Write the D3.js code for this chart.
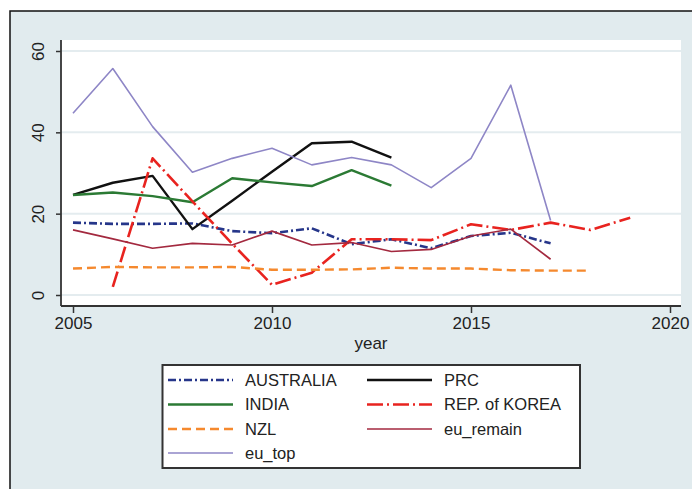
<!DOCTYPE html>
<html>
<head>
<meta charset="utf-8">
<script src="https://cdn.jsdelivr.net/npm/d3@7"></script>
<style>
  body { margin: 0; background: #fff; }
  svg { display: block; font-family: "Liberation Sans", Arial, sans-serif; }
</style>
</head>
<body>
<svg id="chart" width="692" height="489"></svg>
<script>
// data
var years = [2005, 2006, 2007, 2008, 2009, 2010, 2011, 2012, 2013, 2014, 2015, 2016, 2017, 2018, 2019];
var australia = [17.8, 17.5, 17.5, 17.6, 15.7, 15.2, 16.4, 12.5, 13.7, 11.5, 14.5, 15.3, 12.7, null, null];
var prc       = [24.6, 27.6, 29.3, 16.2, 23.2, 30.3, 37.3, 37.7, 33.8, null, null, null, null, null, null];
var india     = [24.6, 25.2, 24.3, 22.8, 28.7, 27.7, 26.8, 30.7, 26.9, null, null, null, null, null, null];
var korea     = [null, 2.0, 33.6, 23.0, 12.6, 2.5, 5.5, 13.7, 13.7, 13.5, 17.4, 16.0, 17.8, 16.0, 19.0];
var nzl       = [6.5, 6.9, 6.8, 6.8, 6.9, 6.2, 6.2, 6.3, 6.7, 6.5, 6.5, 6.1, 6.0, 6.0, null];
var euRemain  = [16.0, 13.8, 11.5, 12.7, 12.3, 15.7, 12.3, 12.9, 10.7, 11.2, 14.5, 16.2, 8.8, null, null];
var euTop     = [44.7, 55.7, 41.4, 30.2, 33.6, 36.1, 32.0, 33.8, 32.0, 26.4, 33.6, 51.6, 18.3, null, null];

var seriesNames = ["AUSTRALIA", "PRC", "INDIA", "REP. of KOREA", "NZL", "eu_remain", "eu_top"];
var seriesValues = [australia, prc, india, korea, nzl, euRemain, euTop];
var xTicks = [2005, 2010, 2015, 2020];
var yTicks = [0, 20, 40, 60];

// styles per series
var styles = [
  {color: "#26368a", width: 2.6, dash: "8,3,2,3"},
  {color: "#111111", width: 2.4, dash: null},
  {color: "#2b7a34", width: 2.4, dash: null},
  {color: "#e8231f", width: 2.6, dash: "16,4,2,4"},
  {color: "#f5892e", width: 2.4, dash: "9,5"},
  {color: "#a3293f", width: 1.7, dash: null},
  {color: "#8e86c6", width: 1.6, dash: null}
];

var svg = d3.select("#chart");

// graph region background + frame
svg.append("rect").attr("x", 0).attr("y", 0).attr("width", 692).attr("height", 489).attr("fill", "#fff");
svg.append("rect")
    .attr("x", 10).attr("y", 11).attr("width", 720).attr("height", 520)
    .attr("fill", "#e1ebee").attr("stroke", "#111").attr("stroke-width", 1.5);

var plot = {left: 61, right: 681, top: 40, bottom: 306};

var x = d3.scaleLinear().domain([2005, 2020]).range([73, 670]);
var y = d3.scaleLinear().domain([0, 60]).range([295, 51]);

// plot region
svg.append("rect")
    .attr("x", plot.left).attr("y", plot.top)
    .attr("width", plot.right - plot.left).attr("height", plot.bottom - plot.top)
    .attr("fill", "#fff");

// gridlines
svg.append("g").selectAll("line")
    .data(yTicks)
    .enter().append("line")
    .attr("x1", plot.left).attr("x2", plot.right)
    .attr("y1", function(d) { return y(d); })
    .attr("y2", function(d) { return y(d); })
    .attr("stroke", "#e4ecef").attr("stroke-width", 2);

// lines
var line = d3.line()
    .defined(function(d) { return d.v != null; })
    .x(function(d) { return x(d.year); })
    .y(function(d) { return y(d.v); });

seriesValues.forEach(function(vals, i) {
  var pts = years.map(function(yr, j) { return {year: yr, v: vals[j]}; });
  svg.append("path")
      .datum(pts)
      .attr("d", line)
      .attr("fill", "none")
      .attr("stroke", styles[i].color)
      .attr("stroke-width", styles[i].width)
      .attr("stroke-dasharray", styles[i].dash)
      .attr("stroke-linejoin", "round");
});

// X axis
var xAxis = svg.append("g")
    .attr("transform", "translate(0," + plot.bottom + ")")
    .call(d3.axisBottom(x).tickValues(xTicks).tickSize(7).tickPadding(4).tickFormat(d3.format("d")));
xAxis.select(".domain").remove();
xAxis.selectAll("line").attr("stroke", "#333").attr("stroke-width", 1.5);
xAxis.selectAll("text").style("font-size", "17px").attr("fill", "#222").style("font-family", "Liberation Sans, Arial, sans-serif");

// Y axis
var yAxis = svg.append("g")
    .attr("transform", "translate(" + plot.left + ",0)")
    .call(d3.axisLeft(y).tickValues(yTicks).tickSize(5));
yAxis.select(".domain").remove();
yAxis.selectAll("line").attr("stroke", "#333").attr("stroke-width", 1.5);
yAxis.selectAll("text")
    .attr("x", null).attr("dy", "0.35em")
    .attr("transform", "translate(-23,0) rotate(-90)")
    .attr("text-anchor", "middle")
    .style("font-size", "17px").attr("fill", "#222")
    .style("font-family", "Liberation Sans, Arial, sans-serif");

// axis lines
svg.append("line")
    .attr("x1", plot.left).attr("x2", plot.left)
    .attr("y1", plot.top).attr("y2", plot.bottom)
    .attr("stroke", "#333").attr("stroke-width", 1.8);
svg.append("line")
    .attr("x1", plot.left).attr("x2", plot.right)
    .attr("y1", plot.bottom).attr("y2", plot.bottom)
    .attr("stroke", "#333").attr("stroke-width", 1.8);

// x axis title
svg.append("text")
    .attr("x", (plot.left + plot.right) / 2)
    .attr("y", 349)
    .attr("text-anchor", "middle")
    .style("font-size", "17px")
    .attr("fill", "#222")
    .text("year");

// legend
var legend = svg.append("g");
legend.append("rect")
    .attr("x", 162.5).attr("y", 365).attr("width", 417.5).attr("height", 103)
    .attr("fill", "#fff").attr("stroke", "#333").attr("stroke-width", 2);

var rowY = [380, 404.5, 429, 453];
var colX = [168, 367];

seriesNames.forEach(function(name, i) {
  var cx = colX[i % 2], cy = rowY[Math.floor(i / 2)];
  legend.append("line")
      .attr("x1", cx).attr("x2", cx + 65)
      .attr("y1", cy).attr("y2", cy)
      .attr("stroke", styles[i].color)
      .attr("stroke-width", styles[i].width)
      .attr("stroke-dasharray", styles[i].dash);
  legend.append("text")
      .attr("x", cx + 77).attr("y", cy)
      .attr("dy", "0.36em")
      .style("font-size", "16.5px")
      .attr("fill", "#222")
      .text(name);
});
</script>
</body>
</html>
